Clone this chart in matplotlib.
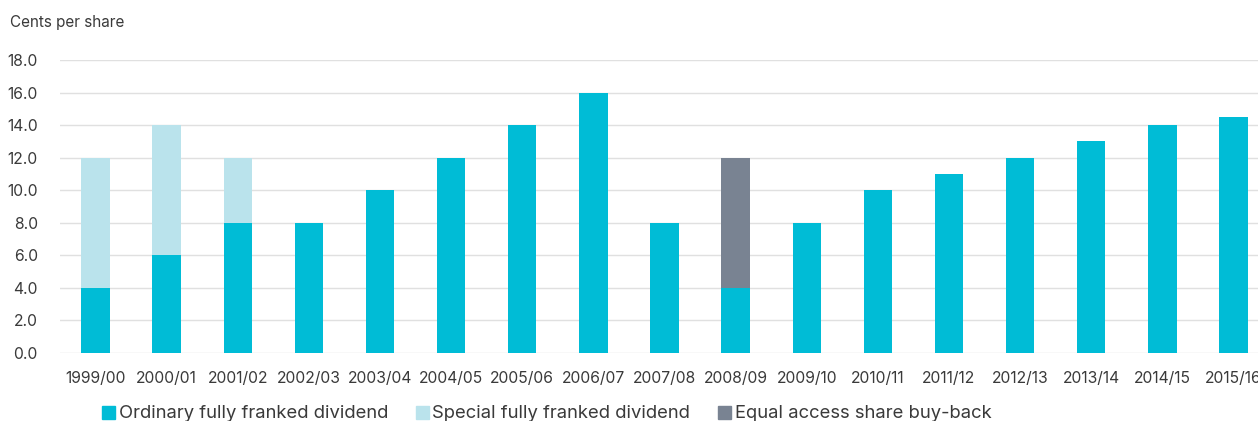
import numpy as np
import matplotlib.pyplot as plt
from matplotlib.patches import Patch

plt.rcParams['font.family'] = ['Inter', 'DejaVu Sans']

years = ["1999/00", "2000/01", "2001/02", "2002/03", "2003/04", "2004/05", "2005/06",
         "2006/07", "2007/08", "2008/09", "2009/10", "2010/11", "2011/12", "2012/13",
         "2013/14", "2014/15", "2015/16"]
ordinary = [4, 6, 8, 8, 10, 12, 14, 16, 8, 4, 8, 10, 11, 12, 13, 14, 14.5]
special = [8, 8, 4, 0, 0, 0, 0, 0, 0, 0, 0, 0, 0, 0, 0, 0, 0]
buyback = [0, 0, 0, 0, 0, 0, 0, 0, 0, 8, 0, 0, 0, 0, 0, 0, 0]

c_ord = "#00bcd6"
c_spec = "#bae3ec"
c_buy = "#798392"
txt = "#3a3a3a"

W, H = 1258, 421
fig = plt.figure(figsize=(W / 100, H / 100), dpi=100)
ax = fig.add_axes([60 / W, (H - 353) / H, (1269 - 60) / W, (353 - 60) / H])

x = np.arange(len(years))
ordinary = np.array(ordinary)
special = np.array(special)
buyback = np.array(buyback)
w = 0.4
ax.bar(x, ordinary, w, color=c_ord, zorder=3)
ax.bar(x, special, w, bottom=ordinary, color=c_spec, zorder=3)
ax.bar(x, buyback, w, bottom=ordinary + special, color=c_buy, zorder=3)

ax.set_xlim(-0.5, len(years) - 0.5)
ax.set_ylim(0, 18)
ax.set_yticks(np.arange(0, 18.1, 2))
ax.set_yticklabels([f"{v:.1f}" for v in np.arange(0, 18.1, 2)])
ax.set_xticks(x)
ax.set_xticklabels(years)
ax.tick_params(axis='y', length=0, pad=16, labelsize=11.3, labelcolor=txt)
ax.tick_params(axis='x', length=0, pad=13, labelsize=11.3, labelcolor=txt)
ax.grid(axis='y', color="#e0e0e0", linewidth=1, zorder=0)
ax.set_axisbelow(True)
for s in ax.spines.values():
    s.set_visible(False)

fig.text(10 / W, 1 - 22 / H, "Cents per share", fontsize=11, color=txt, va='center', ha='left')

handles = [Patch(color=c_ord, label="Ordinary fully franked dividend"),
           Patch(color=c_spec, label="Special fully franked dividend"),
           Patch(color=c_buy, label="Equal access share buy-back")]
leg = fig.legend(handles=handles, loc='center left', bbox_to_anchor=(102 / W, 1 - 414 / H),
                 ncol=3, frameon=False, fontsize=13.3, handlelength=0.7, handleheight=0.7,
                 handletextpad=0.2, columnspacing=1.5, borderaxespad=0, borderpad=0)
for t in leg.get_texts():
    t.set_color(txt)

fig.savefig("out.png", dpi=100)
